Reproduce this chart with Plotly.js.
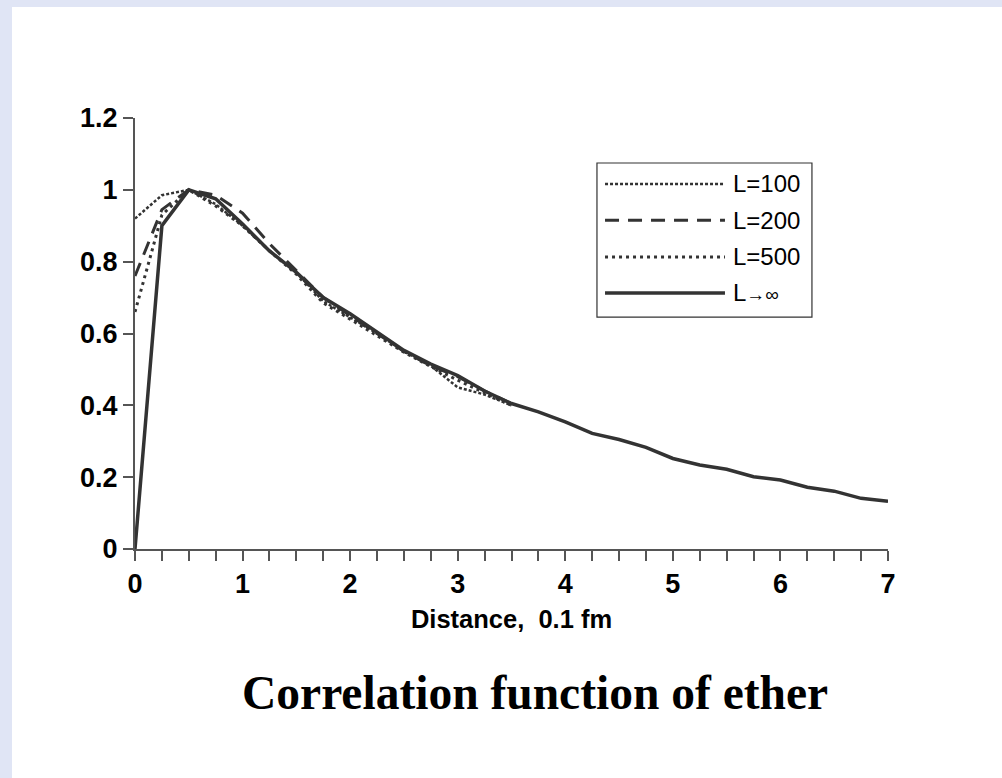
<!DOCTYPE html>
<html><head><meta charset="utf-8">
<script src="https://cdn.plot.ly/plotly-3.0.1.min.js"></script>
<style>
html,body{margin:0;padding:0;background:#e0e5f5;width:1002px;height:778px;overflow:hidden}
#chart{position:absolute;left:12px;top:7px;width:990px;height:771px;}
</style></head><body><div id="chart"></div>
<script>
// Distance, 0.1 fm
const xShort = [0,0.25,0.5,0.75,1,1.25,1.5,1.75,2,2.25,2.5,2.75,3,3.25,3.5];
const xFull  = [0,0.25,0.5,0.75,1,1.25,1.5,1.75,2,2.25,2.5,2.75,3,3.25,3.5,
                3.75,4,4.25,4.5,4.75,5,5.25,5.5,5.75,6,6.25,6.5,6.75,7];
const L100 = [0.92,0.985,1.0,0.96,0.90,0.83,0.77,0.69,0.645,0.60,0.55,0.51,0.45,0.43,0.40];
const L200 = [0.76,0.945,1.0,0.985,0.935,0.85,0.775,0.70,0.65,0.60,0.55,0.51,0.48,0.44,0.405];
const L500 = [0.66,0.93,1.0,0.955,0.90,0.83,0.765,0.685,0.64,0.595,0.548,0.508,0.47,0.435,0.40];
const Linf = [0,0.90,1.00,0.975,0.905,0.83,0.77,0.70,0.655,0.605,0.553,0.515,0.483,0.44,0.405,
              0.382,0.354,0.322,0.305,0.283,0.252,0.234,0.222,0.201,0.192,0.172,0.161,0.141,0.133];
const seriesNames = ['L=100','L=200','L=500','L<span style="font-size:19px">\u2192\u221e</span>'];
const xTitle = 'Distance,\u00a0 0.1 fm';
const chartTitle = 'Correlation function of ether';

const lineColor = '#333333';
const styles = [
  {dash:'3px,2px', width:2.5},
  {dash:'14px,9px', width:3},
  {dash:'3px,4px', width:3},
  {dash:'solid', width:3.5}
];
const ys = [L100, L200, L500, Linf];
const xs = [xShort, xShort, xShort, xFull];

const traces = ys.map((y,i)=>({
  x: xs[i], y: y, type:'scatter', mode:'lines', name: seriesNames[i],
  showlegend:false, line:{color:lineColor, width:styles[i].width, dash:styles[i].dash}
}));

// manual legend (box, samples, labels) in paper coordinates
const legX0 = 0.6135, legX1 = 0.899, legY0 = 0.538, legY1 = 0.8956;
const sampleX0 = 0.6242, sampleX1 = 0.7835, textX = 0.7915;
const rowY = [0.847, 0.763, 0.6775, 0.594];
const shapes = [{type:'rect', xref:'paper', yref:'paper', x0:legX0, x1:legX1, y0:legY0, y1:legY1,
  line:{color:'#333', width:1.2}, fillcolor:'#ffffff', layer:'above'}];
const annotations = [];
seriesNames.forEach((n,i)=>{
  shapes.push({type:'line', xref:'paper', yref:'paper', x0:sampleX0, x1:sampleX1, y0:rowY[i], y1:rowY[i],
    line:{color:lineColor, width:styles[i].width, dash:styles[i].dash}, layer:'above'});
  annotations.push({xref:'paper', yref:'paper', x:textX, y:rowY[i], xanchor:'left', yanchor:'middle',
    text:n, showarrow:false, font:{family:'Liberation Sans, Arial, sans-serif', size:24, color:'#000'}});
});
annotations.push({xref:'paper', yref:'paper', x:0.531, y:-0.334, xanchor:'center', yanchor:'middle',
  text:chartTitle, showarrow:false,
  font:{family:'Liberation Serif, Times New Roman, serif', size:47.5, color:'#000', weight:'bold'}});

const tickFont = {family:'Liberation Sans, Arial, sans-serif', size:27, color:'#000', weight:'bold'};
const axisCommon = {showline:true, linecolor:'#555', linewidth:2, ticks:'outside', ticklen:10,
  tickwidth:2, tickcolor:'#555', showgrid:false, zeroline:false, tickfont:tickFont, fixedrange:true};

const layout = {
  width:990, height:771,
  margin:{l:123, r:114, t:111, b:229},
  paper_bgcolor:'#ffffff', plot_bgcolor:'#ffffff',
  xaxis: Object.assign({}, axisCommon, {range:[0,7], tickmode:'linear', tick0:0, dtick:1,
    minor:{ticks:'outside', tick0:0, dtick:0.25, ticklen:10, tickwidth:2, tickcolor:'#555', showgrid:false},
    title:{text:xTitle, standoff:12, font:{family:'Liberation Sans, Arial, sans-serif', size:25.5, color:'#000', weight:'bold'}}}),
  yaxis: Object.assign({}, axisCommon, {range:[0,1.2], tickmode:'linear', tick0:0, dtick:0.2}),
  shapes: shapes,
  annotations: annotations,
  showlegend:false
};

Plotly.newPlot('chart', traces, layout, {displayModeBar:false, staticPlot:true});
</script></body></html>
